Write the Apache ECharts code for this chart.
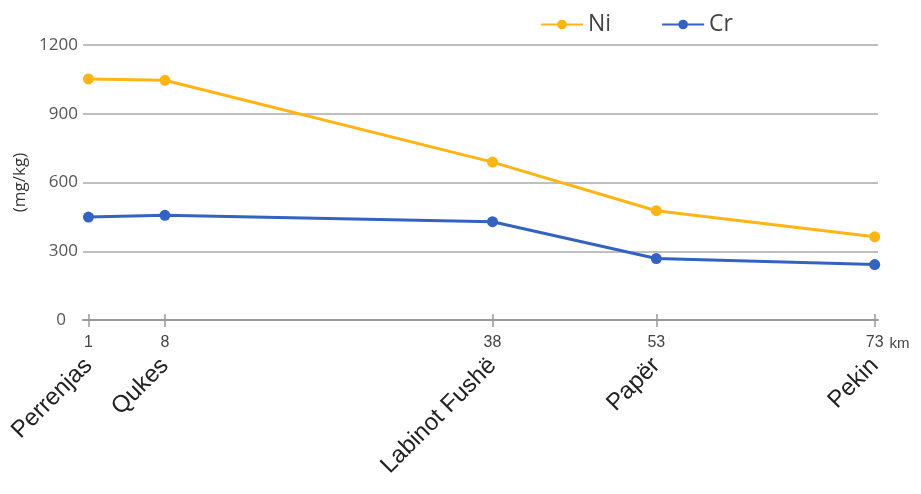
<!DOCTYPE html>
<html><head><meta charset="utf-8">
<script src="https://cdn.jsdelivr.net/npm/echarts@6/dist/echarts.min.js"></script>
<style>html,body{margin:0;padding:0;background:#fff}#c{width:921px;height:494px}</style>
</head><body><div id="c"></div>
<script>
const distances = [1, 8, 38, 53, 73];
const places = ['Perrenjas', 'Qukes', 'Labinot Fushë', 'Papër', 'Pekin'];
const niValues = [1052, 1046, 689, 477, 363];
const crValues = [449, 457, 429, 268, 242];
const yTicks = [0, 300, 600, 900, 1200];

const chart = echarts.init(document.getElementById('c'));
const font = 'Open Sans, Liberation Sans, sans-serif';
const arial = 'Liberation Sans, Arial, sans-serif';
chart.setOption({
  backgroundColor: '#ffffff',
  animation: false,
  legend: {
    top: 8, left: 535,
    itemWidth: 42, itemHeight: 12, itemGap: 50,
    textStyle: { fontSize: 23, color: '#444', fontFamily: font },
    data: ['Ni', 'Cr']
  },
  grid: { left: 83, right: 43, top: 45, bottom: 174 },
  xAxis: [
    {
      type: 'value', min: 0.5, max: 73.3,
      name: 'km', nameLocation: 'end', nameGap: 5,
      nameTextStyle: { fontSize: 15, color: '#444', fontFamily: arial, verticalAlign: 'top', padding: [16, 0, 0, 0] },
      axisLine: { show: true, lineStyle: { color: '#999', width: 2 } },
      axisTick: { show: true, length: 7, customValues: distances, lineStyle: { color: '#999', width: 1.5 } },
      axisLabel: { customValues: distances, fontSize: 16, color: '#444', fontFamily: arial, margin: 15 },
      splitLine: { show: false }
    },
    {
      type: 'value', min: 0.5, max: 73.3, position: 'bottom',
      axisLine: { show: false },
      axisTick: { show: true, inside: true, length: 6, customValues: distances, lineStyle: { color: '#999', width: 1.5 } },
      axisLabel: {
        customValues: distances, rotate: 45, margin: 42,
        fontSize: 24, color: '#222', fontFamily: arial,
        formatter: v => places[distances.indexOf(v)] || ''
      },
      splitLine: { show: false }
    }
  ],
  yAxis: {
    type: 'value', min: 0, max: 1200, interval: 300,
    name: '(mg/kg)', nameLocation: 'middle', nameGap: 54, nameRotate: 90,
    nameTextStyle: { fontSize: 17, color: '#333', fontFamily: font },
    axisLine: { show: false }, axisTick: { show: false },
    axisLabel: {
      fontSize: 17, color: '#555', fontFamily: font, margin: 5,
      formatter: v => v === 0 ? '{z|0}' : String(v),
      rich: { z: { fontSize: 17, color: '#555', fontFamily: font, padding: [0, 12, 0, 0] } }
    },
    splitLine: { lineStyle: { color: '#aaa', width: 1.5 } }
  },
  series: [
    {
      name: 'Ni', type: 'line', xAxisIndex: 0,
      data: distances.map((d, i) => [d, niValues[i]]),
      symbol: 'circle', symbolSize: 11,
      lineStyle: { width: 3, color: '#FDB515' },
      itemStyle: { color: '#FDB515' }
    },
    {
      name: 'Cr', type: 'line', xAxisIndex: 0,
      data: distances.map((d, i) => [d, crValues[i]]),
      symbol: 'circle', symbolSize: 11,
      lineStyle: { width: 3, color: '#3362C2' },
      itemStyle: { color: '#3362C2' }
    }
  ]
});
</script></body></html>
